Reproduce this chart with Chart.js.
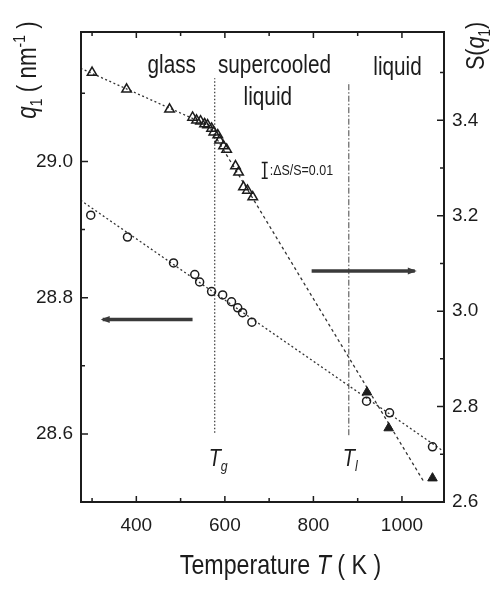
<!DOCTYPE html>
<html>
<head>
<meta charset="utf-8">
<script src="https://cdn.jsdelivr.net/npm/chart.js@4.4.0/dist/chart.umd.min.js"></script>
<style>
  html, body { margin: 0; padding: 0; background: #fff; }
</style>
</head>
<body>
<canvas id="myChart" width="497" height="590"></canvas>
<script>
// open triangles: S(q1), glass and supercooled liquid (right axis)
var triT = [300, 378, 475, 527, 536, 545, 554, 561, 570, 575, 584, 588, 597, 604, 624, 631, 642, 651, 663];
var triS = [3.500, 3.465, 3.423, 3.406, 3.400, 3.398, 3.392, 3.390, 3.383, 3.375, 3.369, 3.358, 3.346, 3.339, 3.304, 3.291, 3.260, 3.253, 3.239];
// filled triangles: S(q1), stable liquid
var liqT = [921, 970, 1069];
var liqS = [2.830, 2.755, 2.650];
// open circles: q1 position (left axis)
var cirT = [297, 380, 484, 532, 543, 570, 595, 615, 629, 640, 661, 920, 972, 1069];
var cirQ = [28.921, 28.889, 28.851, 28.834, 28.823, 28.809, 28.804, 28.794, 28.785, 28.778, 28.764, 28.648, 28.631, 28.581];

// linear fits (end points)
var fitQT = [274, 1095];
var fitQ = [28.943, 28.574];
var fitGlassT = [274, 577];
var fitGlassS = [3.509, 3.383];
var fitLiqT = [554, 1051];
var fitLiqS = [3.404, 2.640];

// glass transition and liquidus temperatures
var Tg = 577;
var Tl = 880;
var tgSpan = [2.745, 3.488];
var tlSpan = [2.740, 3.480];

var FONT = "'Liberation Sans', Arial, sans-serif";
var INK = '#1c1c1c';
var SQ = 0.83; // horizontal squeeze for the condensed-looking labels

function pts(xs, ys) {
  return xs.map(function (x, i) { return { x: x, y: ys[i] }; });
}

// text runs are [text, italic, shift]; shift 1 = subscript, -1 = superscript
function setRunFont(ctx, r, size) {
  var s = r[2] ? size * 0.62 : size;
  ctx.font = (r[1] ? 'italic ' : '') + s + 'px ' + FONT;
}
function runWidth(ctx, runs, size) {
  var w = 0;
  runs.forEach(function (r) {
    setRunFont(ctx, r, size);
    w += ctx.measureText(r[0]).width * SQ;
  });
  return w;
}
function drawRuns(ctx, runs, x, y, size) {
  var pos = x;
  runs.forEach(function (r) {
    setRunFont(ctx, r, size);
    var dy = r[2] === 1 ? size * 0.22 : (r[2] === -1 ? -size * 0.42 : 0);
    ctx.save();
    ctx.translate(pos, y + dy);
    ctx.scale(SQ, 1);
    ctx.fillText(r[0], 0, 0);
    ctx.restore();
    pos += ctx.measureText(r[0]).width * SQ;
  });
}
function centeredRuns(ctx, runs, cx, y, size) {
  drawRuns(ctx, runs, cx - runWidth(ctx, runs, size) / 2, y, size);
}

var decor = {
  id: 'decor',
  afterDraw: function (chart) {
    var ctx = chart.ctx, a = chart.chartArea;
    var sx = chart.scales.x, sq = chart.scales.yq, ss = chart.scales.ys;
    ctx.save();
    ctx.strokeStyle = INK;
    ctx.fillStyle = INK;

    // frame
    ctx.lineWidth = 2;
    ctx.strokeRect(a.left, a.top, a.right - a.left, a.bottom - a.top);

    // tick marks, all pointing inwards
    ctx.lineWidth = 1.5;
    ctx.beginPath();
    sx.ticks.forEach(function (t) {
      var len = t.label !== '' ? 6 : 4;
      var p = sx.getPixelForValue(t.value);
      ctx.moveTo(p, a.bottom); ctx.lineTo(p, a.bottom - len);
      ctx.moveTo(p, a.top); ctx.lineTo(p, a.top + len);
    });
    sq.ticks.forEach(function (t) {
      var len = t.label !== '' ? 7 : 4;
      var p = sq.getPixelForValue(t.value);
      ctx.moveTo(a.left, p); ctx.lineTo(a.left + len, p);
    });
    ss.ticks.forEach(function (t) {
      var len = t.label !== '' ? 7 : 4;
      var p = ss.getPixelForValue(t.value);
      ctx.moveTo(a.right, p); ctx.lineTo(a.right - len, p);
    });
    ctx.stroke();

    // arrows telling which axis each set belongs to
    function arrow(t0, t1, v, scale, headLeft) {
      var x0 = sx.getPixelForValue(t0), x1 = sx.getPixelForValue(t1);
      var y = scale.getPixelForValue(v);
      ctx.save();
      ctx.strokeStyle = '#3a3a3a';
      ctx.fillStyle = '#3a3a3a';
      ctx.lineWidth = 3.5;
      ctx.beginPath();
      ctx.moveTo(x0, y); ctx.lineTo(x1, y);
      ctx.stroke();
      var hx = headLeft ? x0 : x1, d = headLeft ? 1 : -1;
      ctx.beginPath();
      ctx.moveTo(hx - d * 2, y);
      ctx.lineTo(hx + d * 7, y - 3.5);
      ctx.lineTo(hx + d * 7, y + 3.5);
      ctx.closePath();
      ctx.fill();
      ctx.restore();
    }
    arrow(324, 527, 28.768, sq, true);
    arrow(796, 1029, 3.084, ss, false);

    // error bar for dS/S = 0.01
    var ex = sx.getPixelForValue(690);
    var ey0 = ss.getPixelForValue(3.295 * 1.005), ey1 = ss.getPixelForValue(3.295 * 0.995);
    ctx.lineWidth = 1.5;
    ctx.beginPath();
    ctx.moveTo(ex, ey0); ctx.lineTo(ex, ey1);
    ctx.moveTo(ex - 3, ey0); ctx.lineTo(ex + 3, ey0);
    ctx.moveTo(ex - 3, ey1); ctx.lineTo(ex + 3, ey1);
    ctx.stroke();
    ctx.textAlign = 'left';
    ctx.textBaseline = 'alphabetic';
    drawRuns(ctx, [[':\u0394S/S=0.01', false, 0]], ex + 5, (ey0 + ey1) / 2 + 5, 15);

    // region labels
    centeredRuns(ctx, [['glass', false, 0]], sx.getPixelForValue(480), ss.getPixelForValue(3.500), 25);
    centeredRuns(ctx, [['supercooled', false, 0]], sx.getPixelForValue(712), ss.getPixelForValue(3.500), 25);
    centeredRuns(ctx, [['liquid', false, 0]], sx.getPixelForValue(697), ss.getPixelForValue(3.433), 25);
    centeredRuns(ctx, [['liquid', false, 0]], sx.getPixelForValue(990), ss.getPixelForValue(3.494), 25);

    // Tg, Tl markers
    [[Tg, 'g'], [Tl, 'l']].forEach(function (m) {
      var px = sx.getPixelForValue(m[0]);
      drawRuns(ctx, [['T', true, 0], [m[1], true, 1]], px - 6, ss.getPixelForValue(2.675), 24);
    });

    // axis titles
    centeredRuns(ctx, [['Temperature ', false, 0], ['T', true, 0], [' ( K )', false, 0]],
      (a.left + a.right) / 2 + 18, 574, 28);

    ctx.save();
    ctx.translate(36, 70);
    ctx.rotate(-Math.PI / 2);
    centeredRuns(ctx, [['q', true, 0], ['1', false, 1], [' ( nm', false, 0], ['-1', false, -1], [' )', false, 0]], 0, 0, 27);
    ctx.restore();

    ctx.save();
    ctx.translate(484, 46);
    ctx.rotate(-Math.PI / 2);
    centeredRuns(ctx, [['S(', false, 0], ['q', true, 0], ['1', false, 1], [')', false, 0]], 0, 0, 26);
    ctx.restore();

    ctx.restore();
  }
};

var tickFont = { family: FONT, size: 19 };
function tenths(v) {
  return Math.round(v * 10) % 2 === 0 ? v.toFixed(1) : '';
}

var ctx = document.getElementById('myChart').getContext('2d');
var myChart = new Chart(ctx, {
  type: 'scatter',
  data: {
    datasets: [
      { label: 'q1', data: pts(cirT, cirQ), yAxisID: 'yq', pointStyle: 'circle', pointRadius: 4,
        borderColor: INK, backgroundColor: 'rgba(255,255,255,0)', borderWidth: 1.5, order: 0 },
      { label: 'S(q1)', data: pts(triT, triS), yAxisID: 'ys', pointStyle: 'triangle', pointRadius: 5.5,
        borderColor: INK, backgroundColor: 'rgba(255,255,255,0)', borderWidth: 1.5, order: 0 },
      { label: 'S(q1) liquid', data: pts(liqT, liqS), yAxisID: 'ys', pointStyle: 'triangle', pointRadius: 5.5,
        borderColor: INK, backgroundColor: INK, borderWidth: 1, order: 0 },
      { label: 'q1 fit', data: pts(fitQT, fitQ), yAxisID: 'yq', showLine: true, pointRadius: 0,
        borderColor: '#333', borderWidth: 1.3, borderDash: [2, 2.5], order: 1 },
      { label: 'glass fit', data: pts(fitGlassT, fitGlassS), yAxisID: 'ys', showLine: true, pointRadius: 0,
        borderColor: '#333', borderWidth: 1.3, borderDash: [2, 2.5], order: 1 },
      { label: 'liquid fit', data: pts(fitLiqT, fitLiqS), yAxisID: 'ys', showLine: true, pointRadius: 0,
        borderColor: '#333', borderWidth: 1.3, borderDash: [3, 3], order: 1 },
      { label: 'Tg', data: pts([Tg, Tg], tgSpan), yAxisID: 'ys', showLine: true, pointRadius: 0,
        borderColor: '#444', borderWidth: 1.3, borderDash: [1.5, 2], order: 1 },
      { label: 'Tl', data: pts([Tl, Tl], tlSpan), yAxisID: 'ys', showLine: true, pointRadius: 0,
        borderColor: '#444', borderWidth: 1, borderDash: [6, 2, 1.5, 2], order: 1 }
    ]
  },
  options: {
    responsive: false,
    animation: false,
    layout: { padding: { top: 32, left: 0, right: 0, bottom: 0 } },
    plugins: { legend: { display: false }, tooltip: { enabled: false } },
    scales: {
      x: {
        type: 'linear', position: 'bottom', min: 275, max: 1095,
        grid: { display: false, drawTicks: false },
        border: { display: false },
        ticks: { stepSize: 100, includeBounds: false, autoSkip: false, maxRotation: 0, padding: 12,
          font: tickFont, color: INK,
          callback: function (v) { return v % 200 === 0 ? String(v) : ''; } },
        afterFit: function (s) { s.height = 88; }
      },
      yq: {
        type: 'linear', position: 'left', min: 28.5, max: 29.19,
        grid: { display: false, drawTicks: false },
        border: { display: false },
        ticks: { stepSize: 0.1, includeBounds: false, autoSkip: false, padding: 8,
          font: tickFont, color: INK, callback: tenths },
        afterFit: function (s) { s.width = 81; }
      },
      ys: {
        type: 'linear', position: 'right', min: 2.6, max: 3.585,
        grid: { display: false, drawTicks: false },
        border: { display: false },
        ticks: { stepSize: 0.1, includeBounds: false, autoSkip: false, padding: 8,
          font: tickFont, color: INK, callback: tenths },
        afterFit: function (s) { s.width = 53; }
      }
    }
  },
  plugins: [decor]
});
</script>
</body>
</html>
